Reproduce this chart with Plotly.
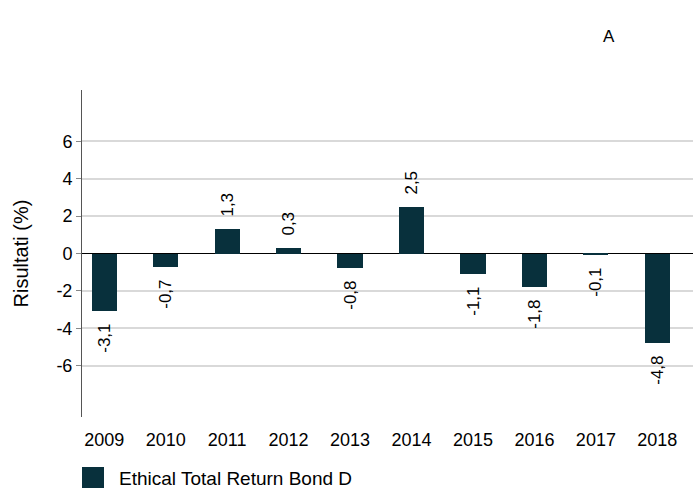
import plotly.graph_objects as go

years = ["2009", "2010", "2011", "2012", "2013", "2014", "2015", "2016", "2017", "2018"]
returns = [-3.1, -0.7, 1.3, 0.3, -0.8, 2.5, -1.1, -1.8, -0.1, -4.8]
y_ticks = [-6, -4, -2, 0, 2, 4, 6]
series_name = "Ethical Total Return Bond D"

BAR = "#08303c"
FONT = "Liberation Sans, Arial, sans-serif"

W, H = 693, 488
L, R, T, B = 82, 0, 90, 71
pw, ph = W - L - R, H - T - B

def px_x(px):
    return (px - L) / pw

def px_y(py):
    return (H - B - py) / ph

NB = "\u00a0\u00a0"
templates = [(NB + "%{y:.1f}") if v >= 0 else ("%{y:.1f}" + NB) for v in returns]

fig = go.Figure()
fig.add_trace(go.Bar(
    x=list(range(len(years))), y=returns, name=series_name,
    marker=dict(color=BAR, line=dict(width=0)),
    width=0.41,
    texttemplate=templates, textposition="outside", textangle=-90,
    constraintext="none",
    textfont=dict(size=17, color="#000000", family=FONT),
    cliponaxis=False, showlegend=False, hoverinfo="skip",
))

fig.update_layout(
    width=W, height=H,
    margin=dict(l=L, r=R, t=T, b=B, autoexpand=False),
    paper_bgcolor="white", plot_bgcolor="white",
    separators=",.",
    font=dict(family=FONT, color="#000000"),
    bargap=0,
    xaxis=dict(
        range=[-0.361, 9.58],
        tickmode="array", tickvals=list(range(len(years))), ticktext=years,
        showgrid=False, zeroline=False, showline=False,
        ticks="", tickfont=dict(size=18), ticklabelstandoff=10,
    ),
    yaxis=dict(
        range=[-8.75, 8.75],
        tickmode="array", tickvals=y_ticks, ticktext=[str(v) for v in y_ticks],
        showgrid=True, gridcolor="#d9d9d9", gridwidth=1.5,
        zeroline=True, zerolinecolor="#000000", zerolinewidth=1,
        showline=True, linecolor="#555555", linewidth=1,
        ticks="outside", ticklen=5, tickcolor="#888888",
        tickfont=dict(size=18), automargin=False,
        title=dict(text="Risultati (%)", font=dict(size=20), standoff=22),
    ),
    shapes=[dict(
        type="rect", xref="paper", yref="paper",
        x0=px_x(82), x1=px_x(104), y0=px_y(488), y1=px_y(467),
        fillcolor=BAR, line=dict(width=0),
    )],
    annotations=[
        dict(text=series_name, xref="paper", yref="paper",
             x=px_x(117), y=px_y(478), xanchor="left", yanchor="middle",
             showarrow=False, font=dict(size=19)),
        dict(text="A", xref="paper", yref="paper",
             x=px_x(609), y=px_y(36), xanchor="center", yanchor="middle",
             showarrow=False, font=dict(size=17)),
    ],
)

fig.write_html("out.html", config={"displayModeBar": False},
               post_script="document.body.style.margin='0';document.body.style.padding='0';")
